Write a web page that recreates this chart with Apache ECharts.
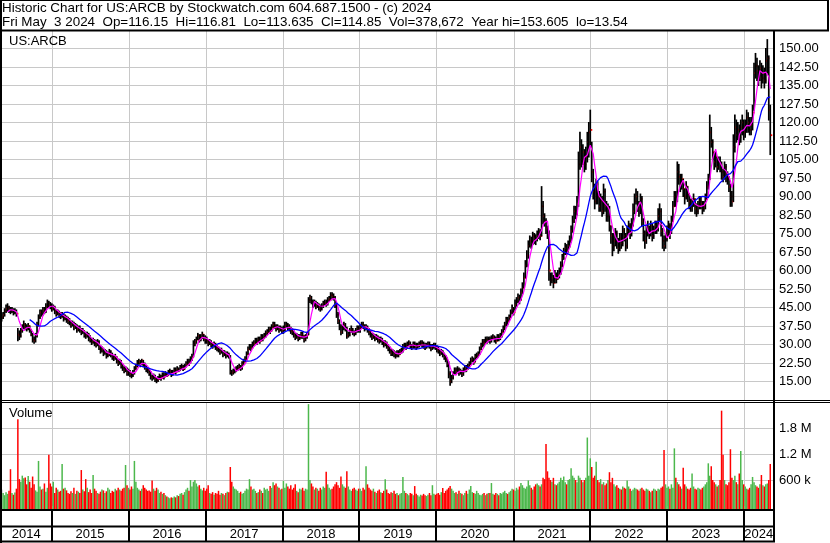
<!DOCTYPE html>
<html><head><meta charset="utf-8">
<script src="https://cdn.jsdelivr.net/npm/echarts@6/dist/echarts.min.js"></script>
<style>html,body{margin:0;padding:0;background:#fff}#c{width:830px;height:543px}</style>
</head><body><div id="c"></div>
<script>
// ---------------- DATA ----------------
const headerLine1 = 'Historic Chart for US:ARCB by Stockwatch.com 604.687.1500 - (c) 2024';
const headerLine2 = 'Fri May  3 2024  Op=116.15  Hi=116.81  Lo=113.635  Cl=114.85  Vol=378,672  Year hi=153.605  lo=13.54';
const symbolName = 'US:ARCB';
const volumeTitle = 'Volume';
const firstWeek = '2014-05-09';           // weekly bars, Fridays
const viewStart = '2014-05-06';
const viewEnd = '2024-05-16';
const years = [2014, 2015, 2016, 2017, 2018, 2019, 2020, 2021, 2022, 2023, 2024];
const priceMin = 7.5, priceMax = 157.5, priceStep = 7.5;
const volMax = 2400000, volStep = 600000;
const maShort = 5, maLong = 20;

const closes = [
// 2014
41.0,42.0,43.5,44.5,45.0,44.0,43.5,44.0,43.0,43.5,42.5,34.0,33.5,35.5,37.0,38.0,37.0,36.5,37.5,36.0,34.0,32.0,31.5,33.5,38.0,41.0,43.0,42.5,44.0,43.5,45.0,47.0,46.0,45.5,
// 2015
44.5,45,43.5,42.5,43,42,41.5,42,40.5,41,40,39.5,39,38,38.5,37,37.5,36,36.5,36,35,35.5,34,33.5,34,32.5,32,31,31.5,30.5,30,31,29,27.5,28,26.5,27,25.5,26,27,26,25,24.5,25,23.5,22.5,23,21.5,20.5,19.5,20,18.5,
// 2016
19,18,17.5,18.5,20,21,22.5,23,22,23.5,22,21,20,19.5,18.5,17,16.5,17,16,15.5,16,17,16.5,17.5,17,18,17.5,18.5,19,18,18.5,19.5,19,20,19.5,20.5,21,20,21,22,23,22.5,24,25,30,31,32,33.5,32,33,34,32.5,
// 2017
32,31.5,30.5,31,30,29.5,30,29,28.5,28,27,27.5,26,26.5,25.5,26,25,19,18.5,19,19.5,20,20.5,21,20.5,22,23,24,26,28,29,28.5,30,30.5,31.5,31,32,31.5,33,32.5,33.5,34.5,35,36,35.5,37,38,37.5,36.5,37,36,36.5,35.5,
// 2018
36,37.5,38,37,36.5,35.5,35,34,33,33.5,32.5,33,34,33.5,32,33,34,48,49,47.5,46,47,45.5,46,45,44.5,45.5,46.5,47,46.5,48,48.5,50,49.5,49,46,42,39.5,37,35,36.5,38,36.5,33.5,34,35.5,36,35,34.5,35.5,36.5,36,
// 2019
37,38,37.5,36.5,37,36,35,34,33,33.5,32.5,33,32,31.5,32,31,30,30.5,29.5,28.5,27.5,26.5,27,26,25.5,26.5,26,27,27.5,29,29.5,29,30,30.5,29.5,29,30,29.5,29,29.5,30,30.5,30,29.5,29,29.5,30,29.5,28.5,29,29.5,29,
// 2020
28,27.5,26.5,27,26,25,24,22,18,15,16.5,18,19.5,19,20,18.5,19,18,19.5,20.5,20,21,22,23.5,24,23,25,25.5,26,28,29.5,31,30.5,32,31.5,32,31.5,32.5,33,32,31.5,33,32.5,33.5,35,36.5,38,40,39.5,41,43,44.5,43,
// 2021
46,47.5,49,48,51,53,57,62,66,70,72,71,74,73,72.5,74,75.5,74,86,82,80,77,75,60,56,57,55,58,56.5,58,59,62,65,67,69,68,70,72,76,80,84,83,87,103,110,105,108,103,106,112,116,117,
// 2022
100,92,88,95,90,86,88,84,92,86,82,85,78,74,70,72,75,72,69,73,71,76,74,70,76,78,75,79,84,88,90,87,85,89,80,75,72,76,77,75,78,74,76,78,77,82,84,76,72,70,73,75,
// 2023
78,76,80,86,90,88,100,98,95,97,93,90,94,91,88,86,87,89,85,84,86,88,87,85,86,89,94,97,116,112,108,104,106,102,104,103,100,98,102,99,97,94,90,88,110,118,115,117,114,118,120,116,
// 2024
118,122,120,117,119,124,140,143,141,139,142,138,140,137,145,146,125,114.85
];

const highs = [
// 2014
42.5,43.0,44.5,46.0,46.5,45.5,45.0,45.0,44.5,44.5,44.0,36.5,35.5,36.5,38.0,39.5,38.5,38.0,38.5,37.5,36.0,34.5,33.0,34.5,39.0,42.0,44.0,44.0,45.0,45.0,46.5,48.0,47.5,47.0,
// 2015
46.5,46,45.5,44,44,43.5,43,43,42.5,42,41.5,41,40.5,39.5,39.5,39,38.5,38,37.5,37.5,36.5,36.5,35.5,35,35,34.5,33.5,32.5,32.5,32,31.5,32,31.5,29.5,29,28.5,28,27.5,27,28,27.5,26.5,25.5,26,25,24,24,23.5,22,21,21,20.5,
// 2016
20,19.5,18.5,19.5,21,22,23.5,24,23.5,24,23.5,22.5,21.5,20.5,20,19,17.5,18,17.5,16.5,17,18,17.5,18.5,18.5,19,18.5,19.5,20,19.5,19.5,20.5,20.5,21,20.5,21.5,22,21.5,22,23,24,24,25,26,31.5,32,33,34.5,34,34,35,34,
// 2017
33.5,33,32,32,31.5,30.5,31,30.5,29.5,29,28.5,28.5,27.5,27.5,27,27,26.5,25.5,19.5,20,20.5,21,21.5,22,21.5,23,24,25,27,29,30,30,31,31.5,32.5,32.5,33,33,34,34,34.5,35.5,36,37,37,38,39,39,38,38,37.5,37.5,37,
// 2018
37.5,39,39,38.5,38,37,36.5,35.5,34.5,34.5,34,34,35,35,33.5,34,35,49,50,49.5,48,48,47.5,47,46.5,46,46.5,47.5,48,48,49,49.5,51,51,50.5,49.5,46.5,43,40,38,37.5,39,38.5,37,35,36.5,37.5,36.5,35.5,36.5,37.5,37.5,
// 2019
38,39,39,38,38,37.5,36.5,35.5,34.5,34.5,34,34,33.5,33,33,32.5,31.5,31.5,31,30,29,28,28,27.5,27,27.5,27.5,28,28.5,30,30.5,30.5,31,31.5,31,30,31,31,30.5,30.5,31,31.5,31.5,31,30.5,30.5,31,31,30,30,30.5,30.5,
// 2020
29.5,29,28,28,27.5,26.5,25.5,24.5,23,19,17.5,19,20.5,20.5,21,20.5,20,19.5,20.5,21.5,21.5,22,23,24.5,25,24.5,26,26.5,27,29,30.5,32,32,33,33,33,33,33.5,34,33.5,33,34,34,34.5,36,37.5,39,41,41,42,44,46,45,
// 2021
48,49,50.5,50,52.5,55,59,64,68,72,74,73.5,75.5,75,74.5,76,77,76.5,94,88,83,81,78,76,59,59,58,60,59,60,61,63.5,66.5,69,71,70.5,72,74,78,82,86,86,90,108,116,113,111,109,110,116,120,125,
// 2022
112,101,95,97,96,92,91,90,95,93,88,87,86,78,75,75,77,76,73,75,75,78,77,75,78,80,79,81,87,91,93,92,88,91,90,81,76,78,80,78,80,79,78,80,80,85,87,85,77,74,75,78,
// 2023
80,79,82,88,92,92,104,103,99,99,97,93,96,94,91,89,89,91,89,87,88,90,90,88,88,91,96,99,123,118,113,108,108,106,106,106,104,101,104,103,100,98,95,92,115,123,121,120,119,121,123,121,
// 2024
121,125,124,122,122,127,144,148,146,143,145,144,143,142,150,153.6,147,127
];

const lows = [
// 2014
39.5,40.5,41.5,43.0,43.5,43.0,42.5,43.0,42.0,42.5,41.5,31.5,32.0,33.0,35.0,36.5,36.0,35.5,36.0,35.0,33.5,31.0,30.5,31.0,33.0,37.5,40.5,41.5,42.0,42.5,43.0,45.0,45.0,44.5,
// 2015
43.5,44,42.5,41.5,42,41,40.5,41,39.5,40,39,38.5,38,37,37.5,36,36.5,35,35.5,35,34,34.5,33,32.5,33,31.5,31,30,30.5,29.5,29,29.5,28,26.5,27,25.5,26,24.5,25,25.5,25,24,23.5,24,22.5,21.5,22,20.5,19.5,18.5,19,17.5,
// 2016
17.5,17,16.5,17,18,20,21,22,21,22,21,20,19,18.5,17.5,16,15.5,16,15,14.5,15,16,15.5,16.5,16,17,17,17.5,18,17,17.5,18.5,18,19,19,19.5,20,19.5,20,21,22,21.5,22.5,23.5,25,29.5,30.5,32,31,31.5,32.5,31.5,
// 2017
30.5,30.5,29.5,30,29,28.5,29,28,27.5,27,26,26.5,25,25.5,24.5,25,24.5,18,17.5,18,18.5,19,19.5,20,19.5,20,22,23,24,26,28,27.5,28.5,29.5,30.5,30,31,30.5,31.5,31.5,32.5,33,34,35,34.5,35.5,37,36.5,35.5,36,35,35.5,34.5,
// 2018
34.5,35.5,37,36,35.5,34.5,34,33,32,32.5,31.5,32,32.5,32.5,31,31.5,32.5,34,47,46.5,45,45.5,44.5,45,44,43.5,44,45,46,45.5,46,47.5,48,48.5,48,45,41,38.5,36,34,34.5,36,35.5,32.5,33,33.5,35,34,33.5,34,35,35,
// 2019
35,36.5,36.5,35.5,36,35,34,33,32,32.5,31.5,32,31,30.5,31,30,29,29.5,28.5,27.5,26.5,25.5,25.5,25,24.5,25,25,26,26.5,27,28.5,28,28.5,29.5,28.5,28,28.5,28.5,28,28.5,29,29.5,29,28.5,28,28.5,29,28.5,27.5,28,28.5,28,
// 2020
27,26.5,25.5,26,25,24,23,21,16.5,13.5,14.5,16,18,18,18.5,17.5,18,17,17.5,19,19,20,21,22,23,22,23,24.5,25,26,28,29,29.5,30.5,30.5,31,30.5,31,32,31,30.5,31.5,31.5,32,33,35,36,37.5,38,39.5,41,42.5,42,
// 2021
44,45.5,47,46.5,48,50.5,53,57,61.5,65,69.5,69,70.5,71,70.5,72,73,72.5,74,79,78,75,73,56,54,55,53,55,55,56.5,57,58.5,61.5,64.5,66.5,66.5,67.5,69.5,71.5,75.5,79.5,81,82.5,86,101,102,103,100,101,104,106,110,
// 2022
96,89,85,87,87,84,84,82,83,84,80,80,76,71,66,68,70,69,67,68,69,70,72,68,69,75,73,74,78,83,87,84,82,83,78,72,69,71,74,73,74,72,73,75,75,76,80,74,69,68,69,72,
// 2023
74,73,75,80,86,86,88,95,92,93,90,87,89,88,85,84,84,86,83,82,83,85,85,83,84,85,89,93,97,110,105,101,102,100,101,100,97,96,97,96,95,92,86,86,88,108,112,113,111,112,115,113,
// 2024
114,116,116,115,115,117,125,138,137,135,137,134,136,134,136,140,121,107
];

const volumesK = [
// 2014
380,300,250,320,280,350,850,300,260,310,400,2000,620,560,700,640,660,500,690,560,420,680,500,360,330,1040,450,380,400,520,330,420,1180,520,
// 2015
450,560,300,420,380,330,350,970,400,420,360,300,280,340,300,420,280,350,330,300,830,380,340,620,420,320,380,300,715,400,350,300,280,330,380,360,300,340,420,380,300,350,330,400,360,420,380,350,400,420,946,480,
// 2016
420,380,450,400,1040,560,420,380,350,400,480,420,380,350,360,330,590,400,350,420,380,300,330,280,300,250,220,200,180,200,190,220,200,250,230,280,300,260,320,380,420,350,600,450,560,600,520,450,480,400,360,420,
// 2017
350,400,480,300,280,320,260,300,280,350,260,300,280,250,300,330,320,900,560,450,400,380,350,300,330,280,300,350,400,380,620,450,380,400,350,300,320,380,350,300,420,380,400,350,460,420,550,480,520,450,420,380,400,
// 2018
580,420,520,450,400,480,380,420,500,350,320,400,380,420,350,400,380,2350,600,520,450,380,420,400,350,420,380,450,420,790,500,420,380,400,450,500,550,480,420,680,500,450,420,800,450,380,350,400,420,380,350,400,
// 2019
400,350,420,380,920,500,420,380,350,400,330,300,350,380,320,300,350,620,380,300,280,320,300,350,280,300,250,280,300,670,350,300,280,250,300,280,250,460,280,250,220,260,240,280,250,230,260,300,250,480,280,260,
// 2020
280,300,260,320,415,300,350,380,420,460,400,350,300,320,280,350,300,280,250,300,350,280,380,460,320,300,280,350,300,260,250,280,300,250,280,300,300,530,280,260,300,280,250,300,280,320,350,300,280,320,350,400,380,
// 2021
350,420,380,450,530,480,420,400,450,590,480,420,380,450,500,520,480,450,500,650,620,1430,800,650,600,560,650,500,480,520,560,650,600,680,550,500,600,620,870,700,650,600,550,700,650,600,550,600,650,1580,700,1100,
// 2022
900,650,700,1020,600,550,620,500,550,480,520,600,780,550,650,500,450,480,420,400,380,450,420,400,590,450,400,350,380,420,400,380,350,400,420,380,350,400,380,350,320,350,400,380,350,400,380,420,450,1290,500,420,
// 2023
450,400,500,420,1330,650,550,500,450,400,885,500,450,400,380,420,750,450,400,380,420,400,380,420,450,500,550,985,700,920,600,550,500,450,480,600,2200,1180,600,500,480,550,1310,650,600,700,550,500,750,1270,600,500,
// 2024
450,400,380,420,500,670,550,480,450,420,500,715,480,450,500,520,600,970
];

// ---------------- DERIVED ----------------
const DAY = 86400000;
const toTs = s => { const p = s.split('-').map(Number); return Date.UTC(p[0], p[1] - 1, p[2]); };
const t0 = toTs(firstWeek), tMin = toTs(viewStart), tMax = toTs(viewEnd);
const n = Math.min(closes.length, highs.length, lows.length, volumesK.length);
const dates = [];
for (let i = 0; i < n; i++) dates.push(t0 + i * 7 * DAY);

function sma(arr, p) {
  const out = [];
  for (let i = 0; i < n; i++) {
    if (i < p - 1) { out.push([dates[i], null]); continue; }
    let s = 0; for (let k = i - p + 1; k <= i; k++) s += arr[k];
    out.push([dates[i], s / p]);
  }
  return out;
}
const ohlcData = [], volData = [];
for (let i = 0; i < n; i++) {
  ohlcData.push([dates[i], lows[i], highs[i], closes[i]]);
  const dir = i === 0 ? 0 : (closes[i] > closes[i - 1] ? 1 : (closes[i] < closes[i - 1] ? -1 : 0));
  volData.push([dates[i], volumesK[i] * 1000, dir]);
}
const yearLineData = years.slice(1).map(y => [Date.UTC(y, 0, 1), 0]);
const yearBandData = years.map(y => [Math.max(tMin, Date.UTC(y, 0, 1)), Math.min(tMax, Date.UTC(y + 1, 0, 1)), y]);

// ---------------- CHART ----------------
const FONT = "'Liberation Sans', Arial, sans-serif";
const GRID_GRAY = '#c8c8c8';
const chart = echarts.init(document.getElementById('c'), null, { renderer: 'canvas' });

const xAxisBase = { type: 'time', min: tMin, max: tMax, show: false };

function yearLines(gridIdx) {
  return {
    type: 'custom', xAxisIndex: gridIdx, yAxisIndex: gridIdx, z: 1, silent: true,
    data: yearLineData, encode: { x: 0, y: 1 },
    renderItem: function (params, api) {
      const cs = params.coordSys;
      const x = Math.round(api.coord([api.value(0), 0])[0]) + 0.5;
      return { type: 'line', shape: { x1: x, y1: cs.y, x2: x, y2: cs.y + cs.height }, style: { stroke: GRID_GRAY, lineWidth: 1 } };
    }
  };
}

const volColors = { '1': '#4cb84c', '-1': '#ff0000', '0': '#a8a8a8' };

const option = {
  animation: false,
  backgroundColor: '#fff',
  grid: [
    { left: 1, top: 30, width: 772, height: 370 },
    { left: 1, top: 402, width: 772, height: 104 },
    { left: 1, top: 510, width: 772, height: 31 }
  ],
  xAxis: [
    Object.assign({ gridIndex: 0 }, xAxisBase),
    Object.assign({ gridIndex: 1 }, xAxisBase),
    Object.assign({ gridIndex: 2 }, xAxisBase)
  ],
  yAxis: [
    {
      gridIndex: 0, type: 'value', position: 'right', min: priceMin, max: priceMax, interval: priceStep,
      axisLine: { show: false }, axisTick: { show: false },
      axisLabel: { show: true, showMinLabel: false, showMaxLabel: false, margin: 6, color: '#000', fontSize: 13, fontFamily: FONT,
        formatter: v => v.toFixed(2) },
      splitLine: { show: true, lineStyle: { color: GRID_GRAY, width: 1 } }
    },
    {
      gridIndex: 1, type: 'value', position: 'right', min: 0, max: volMax, interval: volStep,
      axisLine: { show: false }, axisTick: { show: false },
      axisLabel: { show: true, showMinLabel: false, showMaxLabel: false, margin: 6, color: '#000', fontSize: 13, fontFamily: FONT,
        formatter: v => v >= 1000000 ? (v / 1000000).toFixed(1) + ' M' : (v / 1000) + ' k' },
      splitLine: { show: true, lineStyle: { color: ['transparent', GRID_GRAY, GRID_GRAY, GRID_GRAY, 'transparent'], width: 1 } }
    },
    { gridIndex: 2, type: 'value', min: 0, max: 1, show: false }
  ],
  series: [
    yearLines(0),
    yearLines(1),
    {
      name: 'OHLC', type: 'custom', xAxisIndex: 0, yAxisIndex: 0, z: 2, silent: true,
      data: ohlcData, encode: { x: 0, y: [1, 2, 3] },
      renderItem: function (params, api) {
        const t = api.value(0);
        const pl = api.coord([t, api.value(1)]);
        const ph = api.coord([t, api.value(2)]);
        const pc = api.coord([t, api.value(3)]);
        const x = pl[0];
        return {
          type: 'group', children: [
            { type: 'line', shape: { x1: x, y1: pl[1] + 0.5, x2: x, y2: ph[1] - 0.5 }, style: { stroke: '#000', lineWidth: 1.7 } },
            { type: 'rect', shape: { x: x + 0.5, y: pc[1] - 0.9, width: 1.5, height: 1.8 }, style: { fill: '#ff0000' } }
          ]
        };
      }
    },
    {
      name: 'MA short', type: 'line', xAxisIndex: 0, yAxisIndex: 0, z: 3, silent: true,
      data: sma(closes, maShort), showSymbol: false, connectNulls: false,
      lineStyle: { color: '#ff00ff', width: 1.2 }
    },
    {
      name: 'MA long', type: 'line', xAxisIndex: 0, yAxisIndex: 0, z: 4, silent: true,
      data: sma(closes, maLong), showSymbol: false, connectNulls: false,
      lineStyle: { color: '#0000ff', width: 1.3 }
    },
    {
      name: 'Volume', type: 'custom', xAxisIndex: 1, yAxisIndex: 1, z: 2, silent: true,
      data: volData, encode: { x: 0, y: 1 },
      renderItem: function (params, api) {
        const t = api.value(0);
        const p = api.coord([t, api.value(1)]);
        const base = api.coord([t, 0])[1] + 3;
        return { type: 'rect', shape: { x: p[0] - 0.75, y: p[1], width: 1.5, height: base - p[1] },
          style: { fill: volColors[String(api.value(2))] } };
      }
    },
    {
      name: 'Years', type: 'custom', xAxisIndex: 2, yAxisIndex: 2, z: 5, silent: true,
      data: yearBandData, encode: { x: [0, 1] },
      renderItem: function (params, api) {
        const cs = params.coordSys;
        const xs = api.coord([api.value(0), 0])[0];
        const xe = api.coord([api.value(1), 0])[0];
        const y = api.value(2);
        const children = [];
        if (y !== years[0]) {
          const xl = Math.round(xs);
          children.push({ type: 'rect', shape: { x: xl - 1, y: cs.y, width: 2, height: cs.height }, style: { fill: '#000' } });
        }
        children.push({ type: 'text', style: { text: String(y), x: (xs + xe) / 2, y: cs.y + 24.5,
          align: 'center', verticalAlign: 'middle', textAlign: 'center', textVerticalAlign: 'middle',
          font: '13px ' + FONT, fill: '#000' } });
        return { type: 'group', children: children };
      }
    }
  ],
  graphic: [
    // frame / separators
    { type: 'rect', shape: { x: 0, y: 0, width: 2, height: 543 }, style: { fill: '#000' }, z: 100, silent: true },
    { type: 'rect', shape: { x: 0, y: 0, width: 829, height: 1 }, style: { fill: '#000' }, z: 100, silent: true },
    { type: 'rect', shape: { x: 827, y: 0, width: 2, height: 31 }, style: { fill: '#000' }, z: 100, silent: true },
    { type: 'rect', shape: { x: 0, y: 29.5, width: 829, height: 2 }, style: { fill: '#000' }, z: 100, silent: true },
    { type: 'rect', shape: { x: 773, y: 30, width: 2, height: 512 }, style: { fill: '#000' }, z: 100, silent: true },
    { type: 'rect', shape: { x: 0, y: 400, width: 830, height: 1 }, style: { fill: '#000' }, z: 100, silent: true },
    { type: 'rect', shape: { x: 0, y: 402, width: 830, height: 1 }, style: { fill: '#000' }, z: 100, silent: true },
    { type: 'rect', shape: { x: 0, y: 509, width: 775, height: 2 }, style: { fill: '#000' }, z: 100, silent: true },
    { type: 'rect', shape: { x: 0, y: 525.5, width: 775, height: 2 }, style: { fill: '#000' }, z: 100, silent: true },
    { type: 'rect', shape: { x: 0, y: 540.5, width: 775, height: 2 }, style: { fill: '#000' }, z: 100, silent: true },
    // texts
    { type: 'text', x: 2, y: 8.5, z: 100, silent: true, style: { text: headerLine1, font: '13.4px ' + FONT, fill: '#000', textVerticalAlign: 'middle', verticalAlign: 'middle' } },
    { type: 'text', x: 2, y: 22.5, z: 100, silent: true, style: { text: headerLine2, font: '13.4px ' + FONT, fill: '#000', textVerticalAlign: 'middle', verticalAlign: 'middle' } },
    { type: 'text', x: 9, y: 41, z: 100, silent: true, style: { text: symbolName, font: '13px ' + FONT, fill: '#000', textVerticalAlign: 'middle', verticalAlign: 'middle' } },
    { type: 'text', x: 9, y: 413, z: 100, silent: true, style: { text: volumeTitle, font: '13px ' + FONT, fill: '#000', textVerticalAlign: 'middle', verticalAlign: 'middle' } }
  ]
};
chart.setOption(option);
</script>
</body></html>
